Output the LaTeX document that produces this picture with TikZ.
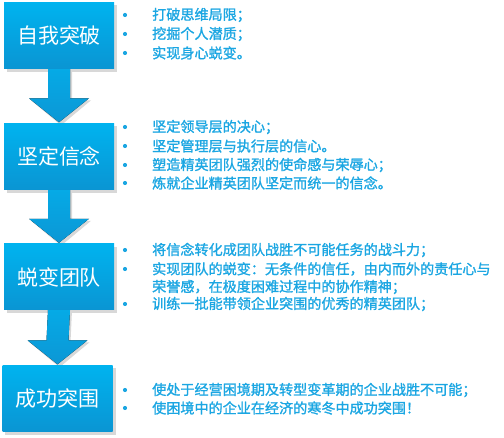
\documentclass[tikz,border=0pt]{standalone}
\usepackage{fontspec}
\newfontfamily\cjk{Noto Sans CJK SC}
\newfontfamily\cjkb{Noto Sans CJK SC}[FakeBold=1.4]
\usetikzlibrary{calc,backgrounds}
\definecolor{boxtop}{HTML}{00B3EF}
\definecolor{boxbot}{HTML}{0A95D3}
\definecolor{arrtop}{HTML}{05AAE6}
\definecolor{arrbot}{HTML}{0C97D5}
\definecolor{txtblue}{HTML}{1BA6E2}
\definecolor{shadowgray}{HTML}{D8D8D8}
\tikzset{
  stagebox/.style={minimum width=110pt, minimum height=66pt, inner sep=0pt,
    top color=boxtop, bottom color=boxbot, draw=none,
    font=\cjk\fontsize{21}{21}\selectfont, text=white},
  itemtext/.style={anchor=west, inner sep=0pt, text=txtblue,
    font=\cjkb\fontsize{14.1}{14.1}\selectfont},
  bulletdot/.style={circle, fill=txtblue, inner sep=0pt, minimum size=4.2pt},
  arrowfill/.style={top color=arrtop, bottom color=arrbot, draw=none},
  shadowfill/.style={fill=shadowgray}
}
\begin{document}
\begin{tikzpicture}[x=1pt,y=-1pt]
\useasboundingbox (0,0) rectangle (504,438);
% stage boxes
\node[stagebox] (b1) at (59,35.5) {自我突破};
\node[stagebox] (b2) at (59,156.5) {坚定信念};
\node[stagebox] (b3) at (59,277) {蜕变团队};
\node[stagebox] (b4) at (57.5,398.5) {成功突围};
% shadows and arrows
\begin{pgfonlayer}{background}
  \foreach \b in {b1,b2,b3,b4}{
    \fill[shadowfill] ($(\b.north west)+(3,3)$) rectangle ($(\b.south east)+(3,3)$);
  }
  \foreach \a/\c in {b1/b2,b2/b3,b3/b4}{
    \fill[shadowfill] ($(\a.south)+(-9,0)$) -- ($(\c.north)+(-9,-23)$) -- ($(\c.north)+(-28,-23)$)
      -- ($(\c.north)+(2,2)$) -- ($(\c.north)+(32,-23)$) -- ($(\c.north)+(13,-23)$) -- ($(\a.south)+(13,0)$) -- cycle;
    \fill[arrowfill] ($(\a.south)+(-11,0)$) -- ($(\c.north)+(-11,-25)$) -- ($(\c.north)+(-30,-25)$)
      -- ($(\c.north)+(0,-1)$) -- ($(\c.north)+(30,-25)$) -- ($(\c.north)+(11,-25)$) -- ($(\a.south)+(11,0)$) -- cycle;
  }
\end{pgfonlayer}
% items stage 1
\node[bulletdot] (d11) at (125,15) {};
\node[bulletdot] (d12) at (125,34) {};
\node[bulletdot] (d13) at (125,53) {};
\node[itemtext] (t11) at (152,15) {打破思维局限；};
\node[itemtext] (t12) at (152,34) {挖掘个人潜质；};
\node[itemtext] (t13) at (152,53) {实现身心蜕变。};
% items stage 2
\node[bulletdot] (d21) at (125,127) {};
\node[bulletdot] (d22) at (125,146) {};
\node[bulletdot] (d23) at (125,165) {};
\node[bulletdot] (d24) at (125,183) {};
\node[itemtext] (t21) at (152,127) {坚定领导层的决心；};
\node[itemtext] (t22) at (152,146) {坚定管理层与执行层的信心。};
\node[itemtext] (t23) at (152,165) {塑造精英团队强烈的使命感与荣辱心；};
\node[itemtext] (t24) at (152,183) {炼就企业精英团队坚定而统一的信念。};
% items stage 3
\node[bulletdot] (d31) at (125,250) {};
\node[bulletdot] (d32) at (125,269) {};
\node[bulletdot] (d33) at (125,304) {};
\node[itemtext] (t31) at (152,250) {将信念转化成团队战胜不可能任务的战斗力；};
\node[itemtext] (t32) at (152,269) {实现团队的蜕变：无条件的信任，由内而外的责任心与};
\node[itemtext] (t32b) at (152,287) {荣誉感，在极度困难过程中的协作精神；};
\node[itemtext] (t33) at (152,304) {训练一批能带领企业突围的优秀的精英团队；};
% items stage 4
\node[bulletdot] (d41) at (125,390) {};
\node[bulletdot] (d42) at (125,408) {};
\node[itemtext] (t41) at (152,390) {使处于经营困境期及转型变革期的企业战胜不可能；};
\node[itemtext] (t42) at (152,408) {使困境中的企业在经济的寒冬中成功突围！};
\end{tikzpicture}
\end{document}
